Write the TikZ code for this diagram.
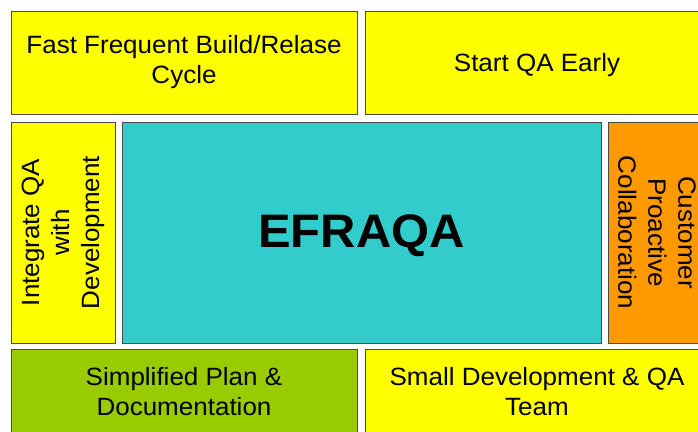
\documentclass[tikz,border=0pt]{standalone}
\usepackage{fontspec}
\setmainfont[FakeStretch=1.04]{Liberation Sans}
\usepackage{xcolor}
\usetikzlibrary{positioning}
\definecolor{qayellow}{HTML}{FFFF00}
\definecolor{qacyan}{HTML}{33CCCC}
\definecolor{qaorange}{HTML}{FF9900}
\definecolor{qagreen}{HTML}{99CC00}
\definecolor{qaedge}{HTML}{4A4A4A}
\tikzset{
  tile/.style={
    draw=qaedge, line width=0.9pt, fill=qayellow, inner sep=0pt,
    align=center, font=\fontsize{25}{30}\selectfont
  },
  hub/.style={
    tile, fill=qacyan, font=\fontsize{47}{52}\selectfont\bfseries
  },
}
\begin{document}
\begin{tikzpicture}[x=1pt, y=-1pt]
    \path[use as bounding box, fill=white] (0,0) rectangle (698,431);
    \clip (0,0) rectangle (698,431);
    % top row
    \node[tile, minimum width=346pt, minimum height=103pt] (fast) at (184,62.5)
      {Fast Frequent Build/Relase\\Cycle};
    \node[tile, minimum width=344pt, minimum height=103pt] (early) at (537,62.5)
      {\rule{0pt}{24pt}Start QA Early};
    % middle row
    \node[tile, rotate=90, minimum width=221pt, minimum height=104pt] (integ) at (63,232.5)
      {Integrate QA\\with\\Development};
    \node[hub, minimum width=479pt, minimum height=221pt] (core) at (361.5,232.5)
      {\rule{0pt}{40pt}EFRAQA};
    \node[tile, fill=qaorange, rotate=-90, minimum width=221pt, minimum height=98pt] (cust) at (657,232.5)
      {Customer\\Proactive\\Collaboration};
    % bottom row
    \node[tile, fill=qagreen, minimum width=346pt, minimum height=86pt] (plan) at (184,392)
      {Simplified Plan \&\\Documentation};
    \node[tile, minimum width=344pt, minimum height=86pt] (team) at (537,392)
      {Small Development \& QA\\Team};
\end{tikzpicture}
\end{document}
